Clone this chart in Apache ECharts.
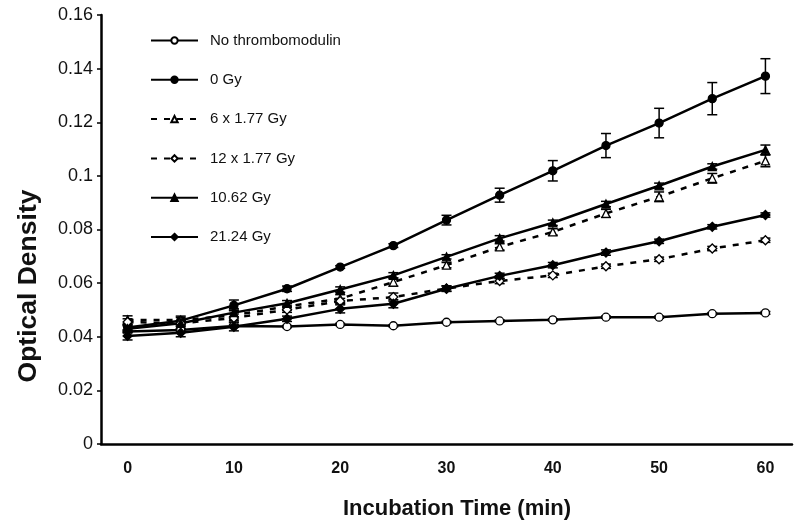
<!DOCTYPE html>
<html>
<head>
<meta charset="utf-8">
<script src="https://cdn.jsdelivr.net/npm/echarts@6/dist/echarts.min.js"></script>
<style>html,body{margin:0;padding:0;background:#fff}#c{width:800px;height:526px}</style>
</head>
<body>
<div id="c"></div>
<script>
const times = [0, 5, 10, 15, 20, 25, 30, 35, 40, 45, 50, 55, 60];
const xTicks = [0, 10, 20, 30, 40, 50, 60];
const xTitle = 'Incubation Time (min)';
const yTitle = 'Optical Density';

const noTM    = [0.042, 0.0425, 0.044, 0.0438, 0.0446, 0.0441, 0.0454, 0.0459, 0.0463, 0.0473, 0.0473, 0.0486, 0.0489];
const gy0     = [0.0435, 0.046, 0.0517, 0.0579, 0.066, 0.074, 0.0835, 0.0928, 0.1019, 0.1113, 0.1197, 0.1288, 0.1372];
const gy6x    = [0.0463, 0.0462, 0.048, 0.0513, 0.0542, 0.0604, 0.0667, 0.0735, 0.0791, 0.086, 0.0922, 0.0991, 0.1056];
const gy12x   = [0.0455, 0.045, 0.047, 0.0501, 0.0533, 0.0548, 0.058, 0.0608, 0.0629, 0.0663, 0.0689, 0.0729, 0.076];
const gy1062  = [0.043, 0.045, 0.049, 0.0525, 0.0576, 0.0629, 0.0698, 0.0767, 0.0825, 0.0895, 0.0963, 0.1035, 0.1097];
const gy2124  = [0.0403, 0.0415, 0.0437, 0.0467, 0.0504, 0.0523, 0.0579, 0.0627, 0.0667, 0.0714, 0.0756, 0.081, 0.0854];

const errNoTM   = [0.0005, 0.0005, 0.0005, 0.0004, 0.0004, 0.0004, 0.0004, 0.0004, 0.0004, 0.0004, 0.0004, 0.0004, 0.0005];
const errGy0    = [0.001, 0.0012, 0.002, 0.001, 0.0005, 0.0007, 0.0018, 0.0026, 0.0038, 0.0045, 0.0055, 0.006, 0.0065];
const errGy6x   = [0.0015, 0.0015, 0.002, 0.001, 0.0015, 0.0015, 0.001, 0.0012, 0.0012, 0.0015, 0.0018, 0.0018, 0.0022];
const errGy12x  = [0.0012, 0.001, 0.0015, 0.001, 0.001, 0.0015, 0.001, 0.001, 0.0008, 0.0008, 0.0008, 0.0008, 0.0008];
const errGy1062 = [0.001, 0.001, 0.0015, 0.001, 0.001, 0.001, 0.0008, 0.001, 0.001, 0.001, 0.001, 0.001, 0.0018];
const errGy2124 = [0.0015, 0.0015, 0.0015, 0.001, 0.0015, 0.0015, 0.001, 0.001, 0.001, 0.001, 0.0008, 0.0008, 0.0008];

const names = ['No thrombomodulin', '0 Gy', '6 x 1.77 Gy', '12 x 1.77 Gy', '10.62 Gy', '21.24 Gy'];
const values = [noTM, gy0, gy6x, gy12x, gy1062, gy2124];
const errors = [errNoTM, errGy0, errGy6x, errGy12x, errGy1062, errGy2124];
const symbols = ['circle', 'circle', 'triangle', 'diamond', 'triangle', 'diamond'];
const filled = [false, true, false, false, true, true];
const dashed = [false, false, true, true, false, false];

const FONT = "'Liberation Sans', Arial, sans-serif";

const series = [];
values.forEach((vals, i) => {
  series.push({
    type: 'custom',
    z: 1,
    silent: true,
    data: times.map((t, k) => [t, vals[k], errors[i][k]]),
    renderItem: function (params, api) {
      const x = api.value(0), y = api.value(1), e = api.value(2);
      const lo = api.coord([x, y - e]);
      const hi = api.coord([x, y + e]);
      const w = 5;
      const st = { stroke: '#000', lineWidth: 1.5 };
      return {
        type: 'group',
        children: [
          { type: 'line', shape: { x1: lo[0], y1: lo[1], x2: hi[0], y2: hi[1] }, style: st },
          { type: 'line', shape: { x1: lo[0] - w, y1: lo[1], x2: lo[0] + w, y2: lo[1] }, style: st },
          { type: 'line', shape: { x1: hi[0] - w, y1: hi[1], x2: hi[0] + w, y2: hi[1] }, style: st }
        ]
      };
    }
  });
});
values.forEach((vals, i) => {
  series.push({
    name: names[i],
    type: 'line',
    z: 3,
    data: times.map((t, k) => [t, vals[k]]),
    symbol: symbols[i],
    symbolSize: symbols[i] === 'diamond' ? 9 : 8,
    showSymbol: true,
    animation: false,
    lineStyle: { color: '#000', width: 2.5, type: dashed[i] ? [6, 7] : 'solid' },
    itemStyle: { color: filled[i] ? '#000' : '#fff', borderColor: '#000', borderWidth: 1.3 }
  });
});

const chart = echarts.init(document.getElementById('c'), null, { renderer: 'canvas' });
chart.setOption({
  animation: false,
  backgroundColor: '#fff',
  grid: { left: 101, right: 8, top: 15, bottom: 82, containLabel: false },
  legend: {
    data: names,
    orient: 'vertical',
    left: 145,
    top: 28,
    itemWidth: 47,
    itemHeight: 8,
    itemGap: 24.3,
    textStyle: { fontFamily: FONT, fontSize: 15, color: '#111', padding: [0, 0, 0, 7] },
    selectedMode: false
  },
  graphic: [
    {
      type: 'text',
      x: 457, y: 509,
      style: { text: xTitle, fontFamily: FONT, fontWeight: 'bold', fontSize: 22, fill: '#111', align: 'center', verticalAlign: 'middle' }
    },
    {
      type: 'text',
      x: 29, y: 286,
      rotation: Math.PI / 2,
      style: { text: yTitle, fontFamily: FONT, fontWeight: 'bold', fontSize: 26.5, fill: '#111', align: 'center', verticalAlign: 'middle' }
    }
  ],
  xAxis: {
    type: 'value',
    min: -2.5,
    max: 62.5,
    axisLine: { show: true, onZero: false, lineStyle: { color: '#000', width: 2.5 } },
    axisTick: { show: false },
    splitLine: { show: false },
    axisLabel: {
      customValues: xTicks,
      fontFamily: FONT, fontWeight: 'bold', fontSize: 16, color: '#111', margin: 17
    }
  },
  yAxis: {
    type: 'value',
    min: 0,
    max: 0.16,
    interval: 0.02,
    axisLine: { show: true, onZero: false, lineStyle: { color: '#000', width: 2.5 } },
    axisTick: { show: true, inside: false, length: 4, lineStyle: { color: '#000', width: 1.5 } },
    splitLine: { show: false },
    axisLabel: { fontFamily: FONT, fontSize: 18, color: '#111', margin: 8 }
  },
  series: series
});
</script>
</body>
</html>
